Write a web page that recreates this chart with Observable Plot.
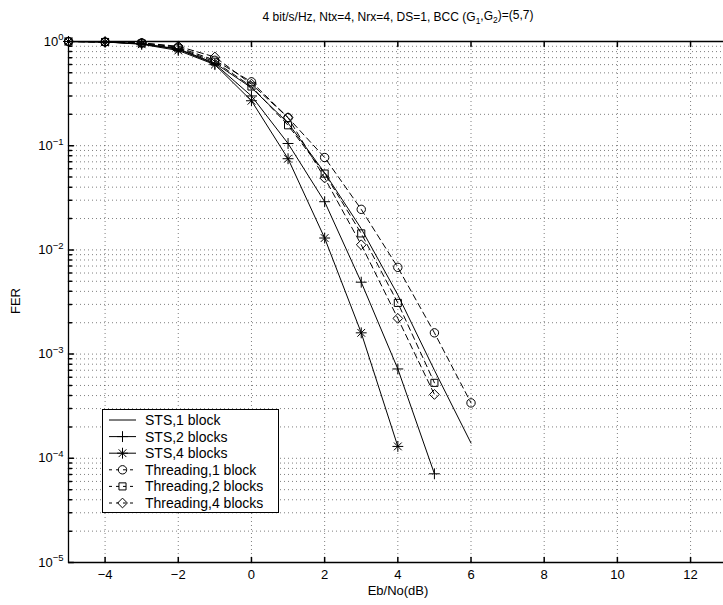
<!DOCTYPE html>
<html><head><meta charset="utf-8">
<script src="https://cdn.jsdelivr.net/npm/d3@7"></script>
<script src="https://cdn.jsdelivr.net/npm/@observablehq/plot@0.6"></script>
<style>
html,body{margin:0;padding:0;background:#fff;overflow:hidden}
svg{display:block;font-family:"Liberation Sans",Arial,Helvetica,sans-serif}
</style>
</head><body><div id="chart"></div>
<script>
// ---- data ----
const ebno = [-5, -4, -3, -2, -1, 0, 1, 2, 3, 4, 5, 6];
const sts1 = [1, 0.99, 0.95, 0.85, 0.62, 0.36, 0.165, 0.055, 0.016, 0.0037, 0.0007, 0.00014];
const sts2 = [1, 0.99, 0.95, 0.84, 0.61, 0.30, 0.105, 0.029, 0.0049, 0.00072, 0.000071];
const sts4 = [1, 0.99, 0.94, 0.82, 0.60, 0.27, 0.075, 0.013, 0.0016, 0.00013];
const thr1 = [1, 0.99, 0.97, 0.88, 0.66, 0.41, 0.186, 0.077, 0.0245, 0.0068, 0.0016, 0.00034];
const thr2 = [1, 0.99, 0.96, 0.86, 0.64, 0.37, 0.157, 0.054, 0.0144, 0.0031, 0.00053];
const thr4 = [1, 0.99, 0.97, 0.90, 0.71, 0.39, 0.186, 0.049, 0.0112, 0.0022, 0.00041];
const seriesNames = ["STS,1 block", "STS,2 blocks", "STS,4 blocks", "Threading,1 block", "Threading,2 blocks", "Threading,4 blocks"];
const xTicks = [-4, -2, 0, 2, 4, 6, 8, 10, 12];
const yTicks = [1e-5, 1e-4, 1e-3, 1e-2, 1e-1, 1];
const xDomain = [-5, 12.9];
const yDomain = [1e-5, 1];
const titleText = "4 bit/s/Hz, Ntx=4, Nrx=4, DS=1, BCC ";
const xLabel = "Eb/No(dB)";
const yLabel = "FER";

// ---- build tables ----
const seriesValues = [sts1, sts2, sts4, thr1, thr2, thr4];
const rows = seriesValues.map((vals, k) => vals.map((v, i) => ({series: seriesNames[k], x: ebno[i], y: v})));
const yMinor = [];
for (let e = -5; e < 0; e++) for (let m = 2; m <= 9; m++) yMinor.push(m * Math.pow(10, e));

const tickShape = {draw(ctx, l) { ctx.moveTo(0, 0); ctx.lineTo(0, -l); }};
const gridStyle = {stroke: "#000", strokeOpacity: 0.5, strokeDasharray: "1,3", strokeWidth: 1};
const solid = {stroke: "black", strokeWidth: 1};
const dashed = {stroke: "black", strokeWidth: 1, strokeDasharray: "6,4"};
const mk = {stroke: "black", strokeWidth: 1, fill: "none"};

const chart = Plot.plot({
  width: 723, height: 605,
  marginLeft: 68, marginRight: 0, marginTop: 41, marginBottom: 43,
  x: {domain: xDomain},
  y: {type: "log", domain: yDomain},
  style: {fontFamily: '"Liberation Sans", Arial, sans-serif', fontSize: "13px", color: "black"},
  marks: [
    Plot.gridX(xTicks, gridStyle),
    Plot.gridY(yMinor, gridStyle),
    Plot.gridY(yTicks.slice(1, -1), gridStyle),
    Plot.line(rows[0], {x: "x", y: "y", ...solid}),
    Plot.line(rows[1], {x: "x", y: "y", ...solid}),
    Plot.line(rows[2], {x: "x", y: "y", ...solid}),
    Plot.line(rows[3], {x: "x", y: "y", ...dashed}),
    Plot.line(rows[4], {x: "x", y: "y", ...dashed}),
    Plot.line(rows[5], {x: "x", y: "y", ...dashed}),
    Plot.dot(rows[1], {x: "x", y: "y", symbol: "plus", r: 3.6, ...mk}),
    Plot.dot(rows[2], {x: "x", y: "y", symbol: "plus", r: 3.6, ...mk}),
    Plot.dot(rows[2], {x: "x", y: "y", symbol: "times", r: 3.6, ...mk}),
    Plot.dot(rows[3], {x: "x", y: "y", symbol: "circle", r: 4.2, ...mk}),
    Plot.dot(rows[4], {x: "x", y: "y", symbol: "square", r: 4, ...mk}),
    Plot.dot(rows[5], {x: "x", y: "y", symbol: "diamond2", r: 4.4, ...mk}),
    // frame lines
    Plot.ruleX([xDomain[0]], {stroke: "black", strokeWidth: 1.3}),
    Plot.ruleY([yDomain[0]], {stroke: "black", strokeWidth: 1.3}),
    Plot.ruleY([yDomain[1]], {stroke: "black", strokeWidth: 1.3}),
    // inward ticks
    Plot.vector(xTicks, {x: d => d, frameAnchor: "bottom", length: 5, rotate: 0, anchor: "start", shape: tickShape, stroke: "black"}),
    Plot.vector(xTicks, {x: d => d, frameAnchor: "top", length: 5, rotate: 180, anchor: "start", shape: tickShape, stroke: "black"}),
    Plot.vector(yTicks, {y: d => d, frameAnchor: "left", length: 5, rotate: 90, anchor: "start", shape: tickShape, stroke: "black"}),
    Plot.vector(yMinor, {y: d => d, frameAnchor: "left", length: 3, rotate: 90, anchor: "start", shape: tickShape, stroke: "black"}),
    // tick labels
    Plot.axisX(xTicks, {anchor: "bottom", tickSize: 0, tickPadding: 7, label: null, fontSize: 13}),
    Plot.axisY(yTicks, {anchor: "left", tickSize: 0, tickPadding: 5, label: null, fontSize: 13,
      tickFormat: d => String(Math.round(Math.log10(d)))})
  ]
});
document.getElementById("chart").appendChild(chart);

const svg = d3.select(chart);
// superscript exponents for y tick labels
svg.selectAll('g[aria-label="y-axis tick label"] text').each(function() {
  const t = d3.select(this);
  const e = t.text().replace("-", "\u2212");
  t.text(null);
  t.append("tspan").text("10");
  t.append("tspan").attr("dy", "-0.55em").attr("font-size", "9.5px").text(e);
});

// title with subscripts
const title = svg.append("text").attr("x", 398).attr("y", 21).attr("text-anchor", "middle")
  .attr("font-size", "12px").attr("fill", "black");
title.append("tspan").text(titleText + "(G");
title.append("tspan").attr("dy", "0.3em").attr("font-size", "8.5px").text("1");
title.append("tspan").attr("dy", "-0.3em").text(",G");
title.append("tspan").attr("dy", "0.3em").attr("font-size", "8.5px").text("2");
title.append("tspan").attr("dy", "-0.3em").text(")=(5,7)");

svg.append("text").attr("x", 398).attr("y", 595).attr("text-anchor", "middle")
  .attr("font-size", "13px").attr("fill", "black").text(xLabel);
svg.append("text").attr("transform", "translate(20,301) rotate(-90)").attr("text-anchor", "middle")
  .attr("font-size", "13px").attr("fill", "black").text(yLabel);

// legend
const lg = svg.append("g");
lg.append("rect").attr("x", 102.5).attr("y", 409.5).attr("width", 176).attr("height", 103)
  .attr("fill", "white").attr("stroke", "black").attr("stroke-width", 1);
const symFor = [null, [d3.symbolPlus], [d3.symbolPlus, d3.symbolTimes], [d3.symbolCircle], [d3.symbolSquare], [d3.symbolDiamond2]];
const rFor = [0, 3.6, 3.6, 4.2, 4, 4.4];
seriesNames.forEach((name, i) => {
  const cy = 420 + i * 16.6;
  lg.append("line").attr("x1", 109).attr("x2", 136).attr("y1", cy).attr("y2", cy)
    .attr("stroke", "black").attr("stroke-width", 1)
    .attr("stroke-dasharray", i >= 3 ? "3,4" : null);
  if (symFor[i]) symFor[i].forEach(s => {
    lg.append("path").attr("d", d3.symbol(s, Math.PI * rFor[i] * rFor[i])())
      .attr("transform", `translate(122.5,${cy})`).attr("fill", "none").attr("stroke", "black");
  });
  lg.append("text").attr("x", 145).attr("y", cy + 5).attr("text-anchor", "start")
    .attr("font-size", "14px").attr("fill", "black").text(name);
});
</script>
</body></html>
